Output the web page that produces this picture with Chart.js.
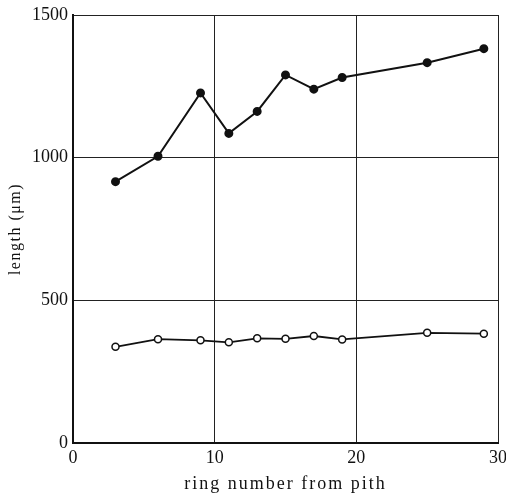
<!DOCTYPE html>
<html>
<head>
<meta charset="utf-8">
<title>length by ring number</title>
<script src="https://cdn.jsdelivr.net/npm/chart.js@4"></script>
<style>
    html, body { margin: 0; padding: 0; background: #fff; }
    #wrap { width: 506px; height: 495px; }
</style>
</head>
<body>
<div id="wrap"><canvas id="chart"></canvas></div>
<script>
// ring number from pith (x) and lengths
const rings = [3, 6, 9, 11, 13, 15, 17, 19, 25, 29];
const upperLength = [916, 1005, 1227, 1085, 1162, 1290, 1240, 1281, 1333, 1382];
const lowerLength = [337, 364, 360, 353, 367, 365, 375, 363, 386, 383];

const xTicks = [0, 10, 20, 30];
const yTicks = [0, 500, 1000, 1500];

const serif = '"Liberation Serif", "Times New Roman", serif';

function points(values) {
    return rings.map((r, i) => ({ x: r, y: values[i] }));
}

// axis titles are printed with wide letter spacing
const titleSpacing = {
    id: 'titleSpacing',
    afterLayout(chart) {
        Object.values(chart.scales).forEach(scale => {
            if (scale._spaced) return;
            const orig = scale.drawTitle.bind(scale);
            scale.drawTitle = function () {
                const ctx = chart.ctx;
                ctx.save();
                ctx.letterSpacing = scale.axis === 'x' ? '2px' : '1.5px';
                orig();
                ctx.restore();
            };
            scale._spaced = true;
        });
    }
};

new Chart(document.getElementById('chart'), {
    type: 'line',
    data: {
        datasets: [
            {
                label: 'upper',
                data: points(upperLength),
                borderColor: '#111',
                borderWidth: 2,
                pointRadius: 3.5,
                pointBackgroundColor: '#111',
                pointBorderColor: '#111',
                tension: 0
            },
            {
                label: 'lower',
                data: points(lowerLength),
                borderColor: '#111',
                borderWidth: 1.8,
                pointRadius: 3.5,
                pointBorderWidth: 1.5,
                pointBackgroundColor: '#fff',
                pointBorderColor: '#111',
                tension: 0
            }
        ]
    },
    options: {
        responsive: true,
        maintainAspectRatio: false,
        animation: false,
        layout: { padding: { top: 15, right: 8, left: 0, bottom: 0 } },
        plugins: {
            legend: { display: false },
            tooltip: { enabled: false }
        },
        scales: {
            x: {
                type: 'linear',
                min: 0,
                max: 30,
                afterBuildTicks: scale => { scale.ticks = xTicks.map(v => ({ value: v })); },
                afterFit: scale => {
                    scale.height = 52;
                    scale.paddingLeft = 0;
                    scale.paddingRight = 0;
                },
                grid: { color: '#222', lineWidth: 1, drawTicks: false },
                border: { color: '#111', width: 2 },
                ticks: {
                    color: '#111',
                    padding: 4,
                    maxRotation: 0,
                    callback: v => String(v),
                    font: { family: serif, size: 18 }
                },
                title: {
                    display: true,
                    text: 'ring number from pith',
                    color: '#111',
                    padding: { top: 6, bottom: 0 },
                    font: { family: serif, size: 18 }
                }
            },
            y: {
                min: 0,
                max: 1500,
                afterBuildTicks: scale => { scale.ticks = yTicks.map(v => ({ value: v })); },
                afterFit: scale => {
                    scale.width = 73;
                    scale.paddingTop = 0;
                    scale.paddingBottom = 0;
                },
                grid: { color: '#222', lineWidth: 1, drawTicks: false },
                border: { color: '#111', width: 2 },
                ticks: {
                    color: '#111',
                    padding: 5,
                    callback: v => String(v),
                    font: { family: serif, size: 18 }
                },
                title: {
                    display: true,
                    text: 'length (μm)',
                    color: '#111',
                    padding: { top: 6, bottom: 4 },
                    font: { family: serif, size: 16 }
                }
            }
        }
    },
    plugins: [titleSpacing]
});
</script>
</body>
</html>
